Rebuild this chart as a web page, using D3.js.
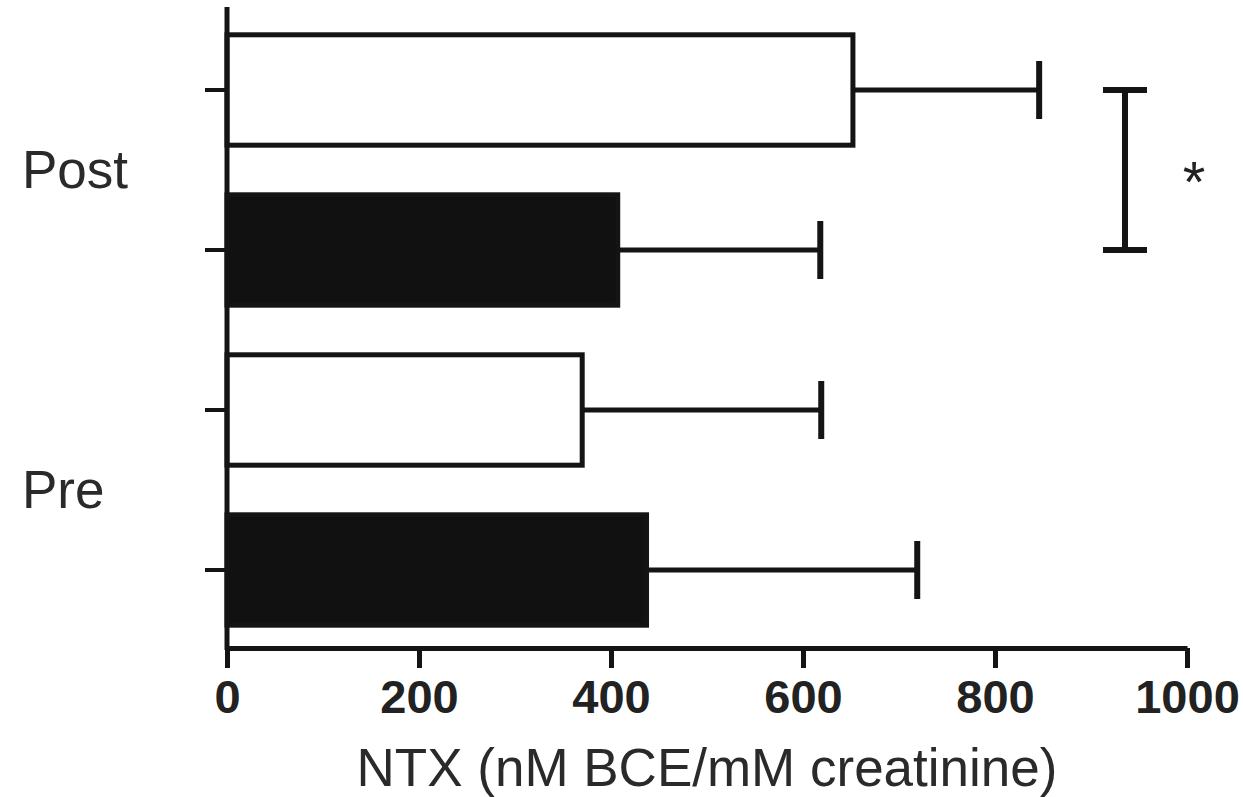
<!DOCTYPE html>
<html>
<head>
<meta charset="utf-8">
<script src="https://cdn.jsdelivr.net/npm/d3@7"></script>
<style>
  body { margin: 0; background: #fff; }
  svg { display: block; font-family: "Liberation Sans", Arial, sans-serif; }
</style>
</head>
<body>
<script>
// data
var groups = ["Post", "Pre"];
var bars = ["PostOpen", "PostFilled", "PreOpen", "PreFilled"];
var barGroup = ["Post", "Post", "Pre", "Pre"];
var barFill = ["#fff", "#111", "#fff", "#111"];
var means = [652, 407, 370, 437];
var upperErr = [846, 618, 619, 719];
var xTicks = [0, 200, 400, 600, 800, 1000];
var xLabel = "NTX (nM BCE/mM creatinine)";

var W = 1243, H = 797;
var svg = d3.select("body").append("svg").attr("width", W).attr("height", H);

var x = d3.scaleLinear().domain([0, 1000]).range([227, 1187]);
var y = d3.scaleBand().domain(bars).range([10, 650]).paddingInner(0.31).paddingOuter(0.155);
var yg = d3.scaleBand().domain(groups).range([10, 650]);

var ink = "#141414";

// error bars (drawn first so bars cover the start)
var eb = svg.append("g");
bars.forEach(function(b, i) {
  var cy = y(b) + y.bandwidth() / 2;
  eb.append("line")
    .attr("x1", x(means[i])).attr("x2", x(upperErr[i]))
    .attr("y1", cy).attr("y2", cy)
    .attr("stroke", ink).attr("stroke-width", 5);
  eb.append("line")
    .attr("x1", x(upperErr[i])).attr("x2", x(upperErr[i]))
    .attr("y1", cy - 29).attr("y2", cy + 29)
    .attr("stroke", ink).attr("stroke-width", 6);
});

// bars
svg.append("g").selectAll("rect").data(bars).enter().append("rect")
  .attr("x", x(0))
  .attr("y", function(d) { return y(d); })
  .attr("width", function(d, i) { return x(means[i]) - x(0); })
  .attr("height", y.bandwidth())
  .attr("fill", function(d, i) { return barFill[i]; })
  .attr("stroke", ink).attr("stroke-width", 5);

// y axis
var yAxis = svg.append("g").attr("transform", "translate(" + x(0) + ",0)")
  .call(d3.axisLeft(y).tickSize(22).tickSizeOuter(0).tickFormat(""));
yAxis.select(".domain").attr("stroke", ink).attr("stroke-width", 5)
  .attr("d", "M0,7V650");
yAxis.selectAll(".tick line").attr("stroke", ink).attr("stroke-width", 4);

// x axis
var xAxis = svg.append("g").attr("transform", "translate(0,648)")
  .call(d3.axisBottom(x).tickValues(xTicks).tickFormat(d3.format("d"))
    .tickSize(20).tickSizeOuter(0).tickPadding(12));
xAxis.select(".domain").attr("stroke", ink).attr("stroke-width", 5);
xAxis.selectAll(".tick line").attr("stroke", ink).attr("stroke-width", 5);
xAxis.selectAll(".tick text")
  .attr("font-family", "'Liberation Sans', Arial, sans-serif")
  .attr("font-size", 47).attr("font-weight", "bold").attr("fill", "#222");

// group labels
svg.append("g").selectAll("text").data(groups).enter().append("text")
  .attr("x", 22)
  .attr("y", function(d) { return yg(d) + yg.bandwidth() / 2 + 18; })
  .attr("font-size", 53).attr("fill", "#2a2a2a")
  .text(function(d) { return d; });

// axis title
svg.append("text")
  .attr("x", (x(0) + x(1000)) / 2).attr("y", 786)
  .attr("text-anchor", "middle")
  .attr("font-size", 53).attr("fill", "#2a2a2a")
  .text(xLabel);

// significance bracket between the two Post bars
var y1 = y("PostOpen") + y.bandwidth() / 2, y2 = y("PostFilled") + y.bandwidth() / 2;
var bx = 1125;
var br = svg.append("g").attr("stroke", ink).attr("stroke-width", 6);
br.append("line").attr("x1", bx).attr("x2", bx).attr("y1", y1).attr("y2", y2);
br.append("line").attr("x1", bx - 22).attr("x2", bx + 22).attr("y1", y1).attr("y2", y1);
br.append("line").attr("x1", bx - 22).attr("x2", bx + 22).attr("y1", y2).attr("y2", y2);
svg.append("text")
  .attr("x", 1194).attr("y", (y1 + y2) / 2 + 32)
  .attr("text-anchor", "middle")
  .attr("font-size", 58).attr("fill", "#222")
  .text("*");
</script>
</body>
</html>
